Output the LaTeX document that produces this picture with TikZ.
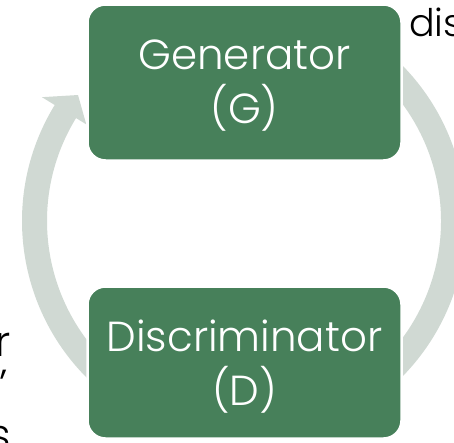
\documentclass[tikz,border=0pt]{standalone}
\usepackage{fontspec}
\setmainfont{Poppins}[UprightFont=* Light]
\usetikzlibrary{calc}
\definecolor{boxgreen}{RGB}{71,128,90}
\definecolor{ringgray}{RGB}{208,217,211}
\begin{document}
\begin{tikzpicture}[x=1pt,y=1pt,
  stage/.style={draw=white, line width=2.5pt, fill=boxgreen, rounded corners=18pt,
    inner sep=0pt},
  stagetext/.style={text=white, align=center, inner sep=0pt,
    font=\fontsize{42}{54}\selectfont},
  sidetext/.style={inner sep=0pt, text=black, font=\fontsize{42}{50}\selectfont},
  ring/.style={fill=ringgray, draw=none}]
\useasboundingbox (0,0) rectangle (454,-442);
\clip (0,0) rectangle (454,-442);
\coordinate (C) at (244,-221);

% right arc: from the generator down to the discriminator
\fill[ring] ($(C)+(50:222)$) arc[start angle=50, end angle=-50, radius=222]
  -- ($(C)+(-50:197)$) arc[start angle=-50, end angle=50, radius=197] -- cycle;

% left arc with its arrow head, back up to the generator
\fill[ring] ($(C)+(232:222)$) arc[start angle=232, end angle=148.5, radius=222]
  -- ($(C)+(148.5:237)$) -- ($(C)+(142.8:208.4)$) -- ($(C)+(148.5:185)$)
  -- ($(C)+(148.5:197)$) arc[start angle=148.5, end angle=232, radius=197] -- cycle;

% the two stages
\node[stage, minimum width=314pt, minimum height=156pt] (gen) at (244.5,-82.5) {};
\node[stage, minimum width=314pt, minimum height=152pt] (dis) at (244.5,-362.5) {};
\node[stagetext] (gentext) at ([yshift=-3pt]gen.center) {Generator\\(G)};
\node[stagetext] (distext) at ([yshift=-4pt]dis.center) {Discriminator\\(D)};

% surrounding text
\node[sidetext, anchor=base west, font=\fontsize{38}{44}\selectfont] (tr) at (409,-36) {dis};
\node[sidetext, anchor=base east] (l1) at (11,-356) {r};
\node[sidetext, anchor=base east] (l2) at (8,-399) {’};
\node[sidetext, anchor=base east] (l3) at (11,-449) {s};
\end{tikzpicture}
\end{document}
